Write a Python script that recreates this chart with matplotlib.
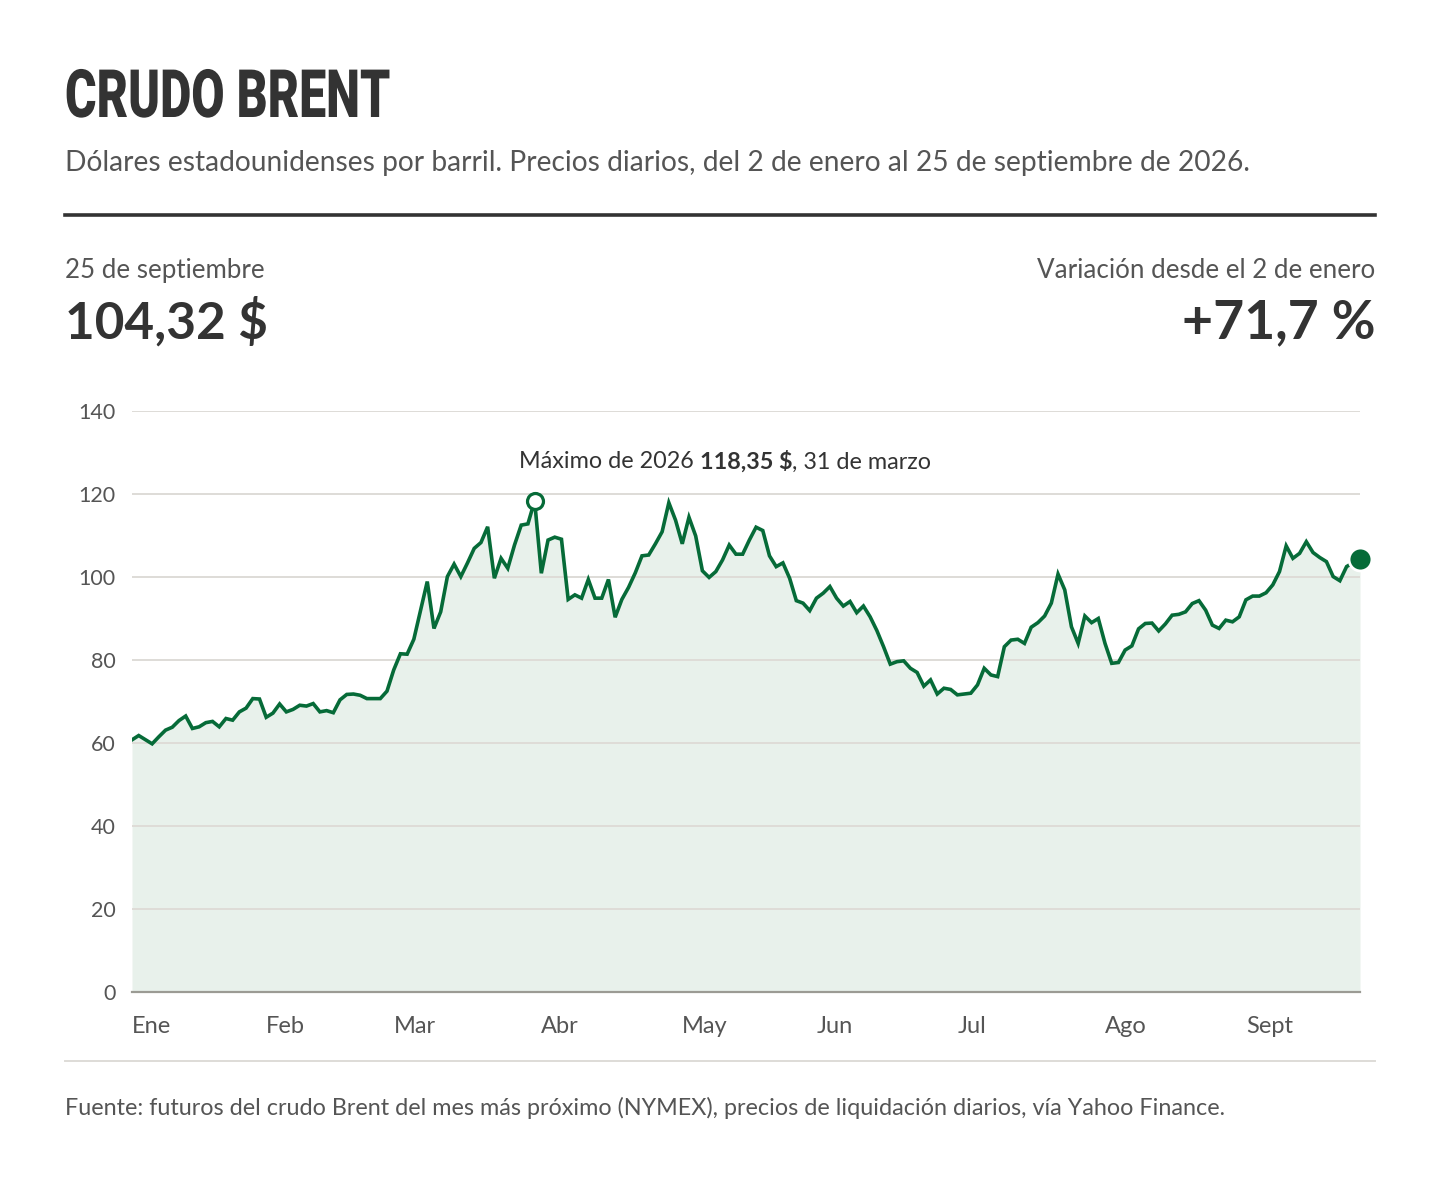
import numpy as np
import pandas as pd
import matplotlib
matplotlib.use("Agg")
import matplotlib.pyplot as plt
from matplotlib.lines import Line2D
from matplotlib.patheffects import AbstractPathEffect
from matplotlib.transforms import Affine2D

# ---------------- data ----------------
prices = [
    60.76, 61.8, 60.8, 59.8, 61.5, 63.1, 63.8, 65.4, 66.5, 63.5,
    63.9, 64.9, 65.2, 63.9, 65.9, 65.5, 67.5, 68.4, 70.7, 70.6,
    66.2, 67.2, 69.4, 67.5, 68.1, 69.1, 68.9, 69.5, 67.5, 67.8,
    67.3, 70.4, 71.7, 71.8, 71.5, 70.7, 70.7, 70.7, 72.5, 77.6,
    81.5, 81.4, 85.0, 92.0, 98.9, 87.6, 91.6, 100.1, 103.1, 100.1,
    103.4, 106.9, 108.3, 112.1, 99.7, 104.5, 102.1, 107.7, 112.5, 112.8,
    118.35, 100.9, 108.9, 109.6, 109.1, 94.6, 95.7, 94.9, 99.4, 94.9,
    94.9, 99.4, 90.3, 94.6, 97.5, 101.0, 105.1, 105.3, 108.0, 110.9,
    117.9, 113.7, 108.0, 114.4, 109.9, 101.5, 99.9, 101.3, 104.1, 107.7,
    105.5, 105.5, 108.9, 112.0, 111.2, 105.1, 102.5, 103.4, 99.7, 94.3,
    93.7, 91.9, 94.9, 96.1, 97.7, 94.9, 93.0, 94.1, 91.4, 93.0,
    90.4, 87.1, 83.2, 79.0, 79.6, 79.8, 78.0, 77.0, 73.7, 75.2,
    71.8, 73.2, 72.9, 71.6, 71.8, 72.0, 74.0, 78.0, 76.4, 76.0,
    83.2, 84.8, 85.0, 84.0, 87.9, 89.0, 90.6, 93.7, 100.7, 96.9,
    88.0, 84.0, 90.6, 89.0, 90.0, 84.0, 79.2, 79.4, 82.4, 83.4,
    87.5, 88.8, 88.9, 87.0, 88.7, 90.8, 91.0, 91.6, 93.6, 94.3,
    92.0, 88.4, 87.6, 89.6, 89.2, 90.4, 94.5, 95.4, 95.4, 96.2,
    98.1, 101.3, 107.5, 104.5, 105.7, 108.5, 105.9, 104.7, 103.7, 100.1,
    99.1, 102.5, 103.5, 104.32,
]
holidays = ["2026-01-19", "2026-02-16", "2026-04-03", "2026-05-25",
            "2026-06-19", "2026-07-03", "2026-09-07"]
month_labels = ["Ene", "Feb", "Mar", "Abr", "May", "Jun", "Jul", "Ago", "Sept"]
y_ticks = [0, 20, 40, 60, 80, 100, 120, 140]

title = "CRUDO BRENT"
subtitle = ("Dólares estadounidenses por barril. Precios diarios, "
            "del 2 de enero al 25 de septiembre de 2026.")
last_label = "25 de septiembre"
last_value = "104,32 $"
change_label = "Variación desde el 2 de enero"
change_value = "+71,7 %"
peak_parts = ["Máximo de 2026 ", "118,35 $", ", 31 de marzo"]
source = ("Fuente: futuros del crudo Brent del mes más próximo (NYMEX), "
          "precios de liquidación diarios, vía Yahoo Finance.")

dates = pd.bdate_range("2026-01-02", "2026-09-25")
dates = dates[~dates.isin(pd.to_datetime(holidays))]
n = min(len(dates), len(prices))
dates = dates[:n]
values = np.array(prices[:n])
x = np.arange(n)
month_pos = [int(np.argmax(dates.month == m)) for m in range(1, 10)]

# ---------------- style ----------------
GREEN = "#066b38"
FILL = "#e8f1eb"
GRID = "#dedcd7"
DARK = "#333333"
GREY = "#555555"
FONT = ["Lato", "DejaVu Sans"]

W, H = 1440, 1180
fig = plt.figure(figsize=(W / 100, H / 100), dpi=100)
fig.patch.set_facecolor("white")
renderer = fig.canvas.get_renderer()


def fx(px):
    return px / W


def fy(py):
    return 1 - py / H


def fit_text(s, xpx, ybase, width, ha="left", weight="normal", color=GREY,
             family=FONT):
    t = fig.text(fx(xpx), fy(ybase), s, ha=ha, va="baseline", fontsize=20,
                 fontweight=weight, color=color, family=family)
    w = t.get_window_extent(renderer).width
    t.set_fontsize(20 * width / w)
    return t


class Squeeze(AbstractPathEffect):
    def __init__(self, sx, x0):
        super().__init__()
        self.sx = sx
        self.x0 = x0

    def draw_path(self, renderer, gc, tpath, affine, rgbFace=None):
        a = affine + Affine2D().translate(-self.x0, 0).scale(self.sx, 1).translate(self.x0, 0)
        renderer.draw_path(gc, tpath, a, rgbFace)


# title (condensed heavy)
tt = fig.text(fx(65), fy(117), title, ha="left", va="baseline", fontsize=48,
              fontweight="heavy", color=DARK, family=["Roboto", "DejaVu Sans"])
tw = tt.get_window_extent(renderer).width
tt.set_path_effects([Squeeze(325 / tw, 65)])

fit_text(subtitle, 65, 170.5, 1182)
fig.add_artist(Line2D([fx(65), fx(1375)], [fy(215), fy(215)], color=DARK, lw=2.6))

fit_text(last_label, 65, 278, 200)
fit_text(last_value, 65, 339, 203, weight="bold", color=DARK)
fit_text(change_label, 1375, 278, 338, ha="right")
fit_text(change_value, 1375, 338, 194, ha="right", weight="bold", color=DARK)

fig.add_artist(Line2D([fx(65), fx(1375)], [fy(1061), fy(1061)], color=GRID, lw=1.4))
fit_text(source, 65, 1115, 1163)

# peak annotation built from three pieces
pieces = []
total = 0
for i, p in enumerate(peak_parts):
    t = fig.text(0, 0, p, fontsize=20, fontweight="bold" if i == 1 else "normal",
                 family=FONT, color=DARK, ha="left", va="baseline")
    pieces.append(t)
    total += t.get_window_extent(renderer).width
scale = 412 / total
cur = 519
for t in pieces:
    t.set_fontsize(20 * scale)
    w = t.get_window_extent(renderer).width
    t.set_position((fx(cur), fy(468.5)))
    cur += w

# ---------------- chart ----------------
ax = fig.add_axes([fx(132), fy(992), fx(1360) - fx(132), fy(411) - fy(992)])
ax.set_xlim(0, n - 1)
ax.set_ylim(0, 140)
ax.fill_between(x, 0, values, color=FILL, lw=0, zorder=0.1)
ax.plot(x, values, color=GREEN, lw=2.6, zorder=3, solid_joinstyle="miter")

ipk = int(np.argmax(values))
ax.plot([x[ipk]], [values[ipk]], "o", ms=11.5, mfc="white", mec=GREEN, mew=2.3,
        zorder=4, clip_on=False)
ax.plot([x[-1]], [values[-1]], "o", ms=16.5, mfc=GREEN, mec="white", mew=2.0,
        zorder=5, clip_on=False)

ax.set_yticks(y_ticks)
ax.set_yticklabels([str(v) for v in y_ticks])
ax.yaxis.grid(True, color=GRID, lw=1.4)
ax.set_xticks(month_pos)
ax.set_xticklabels(month_labels, ha="left")
for s in ["top", "right", "left"]:
    ax.spines[s].set_visible(False)
ax.spines["bottom"].set_color("#9b9b94")
ax.spines["bottom"].set_linewidth(1.6)
ax.spines["bottom"].set_zorder(2)
ax.tick_params(axis="both", length=0, colors=GREY)
ax.tick_params(axis="y", pad=12, labelsize=15.5)
ax.tick_params(axis="x", pad=17, labelsize=17)
for lab in ax.get_xticklabels() + ax.get_yticklabels():
    lab.set_family(FONT)
ax.set_facecolor("none")

fig.savefig("out.png", dpi=100, facecolor="white")
